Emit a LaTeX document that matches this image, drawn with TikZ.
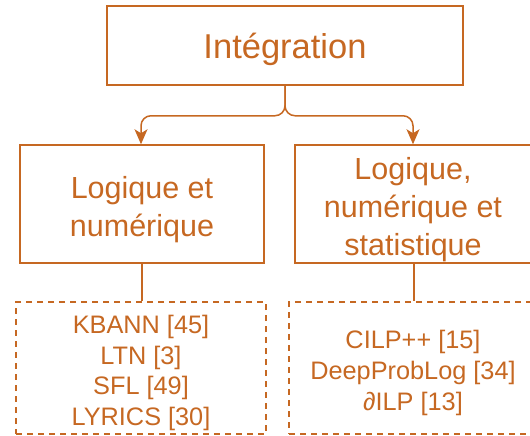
\documentclass[tikz,border=0pt]{standalone}
\usepackage{fontspec}
\setmainfont{Liberation Sans}
\usetikzlibrary{arrows.meta}
\definecolor{ink}{RGB}{198,104,34}
\tikzset{
  box/.style={draw=ink, line width=1.5pt, inner sep=0pt},
  listbox/.style={box, dashed, dash pattern=on 6pt off 5pt},
  caption/.style={text=ink, align=center, inner sep=0pt},
  link/.style={draw=ink, line width=1.5pt},
  big/.style={font=\fontsize{34.5}{40}\selectfont},
  mid/.style={font=\fontsize{30.5}{38}\selectfont},
  small/.style={font=\fontsize{25.3}{30.8}\selectfont},
}
\begin{document}
\begin{tikzpicture}[x=1pt,y=-1pt]
\useasboundingbox (0,0) rectangle (530,436);
\clip (0,0) rectangle (530,436);

% frames
\node[box, minimum width=356pt, minimum height=79pt] (top) at (285,45.5) {};
\node[box, minimum width=244pt, minimum height=118pt] (lnum) at (142,204) {};
\node[box, minimum width=238pt, minimum height=118pt] (lstat) at (414,204) {};
\node[listbox, minimum width=250pt, minimum height=132pt] (lnumlist) at (141,368) {};
\node[listbox, minimum width=248pt, minimum height=132pt] (lstatlist) at (413,368) {};

% captions
\node[caption, big] (toptext) at ([yshift=-4pt]top.center) {Intégration};
\node[caption, mid] (lnumtext) at ([yshift=-6pt]lnum.center) {Logique et\\numérique};
\node[caption, mid] (lstattext) at ([xshift=-1pt,yshift=-6pt]lstat.center)
  {Logique,\\numérique et\\statistique};
\node[caption, small] (lnumlisttext) at ([yshift=-5pt]lnumlist.center)
  {KBANN [45]\\LTN [3]\\SFL [49]\\LYRICS [30]};
\node[caption, small] (lstatlisttext) at ([yshift=-5pt]lstatlist.center)
  {CILP++ [15]\\DeepProbLog [34]\\∂ILP [13]};

% branching arrows
\draw[link, rounded corners=10pt, -{Stealth[length=15pt,width=13pt,inset=4pt]}]
  (top.south) -- ++(0,30) -| ([xshift=-1pt]lnum.north);
\draw[link, rounded corners=10pt, -{Stealth[length=15pt,width=13pt,inset=4pt]}]
  (top.south) -- ++(0,30) -| ([xshift=-1pt]lstat.north);

% plain links to the lists
\draw[link] (lnum.south) -- (lnum.south |- lnumlist.north);
\draw[link] (lstat.south) -- (lstat.south |- lstatlist.north);
\end{tikzpicture}
\end{document}
